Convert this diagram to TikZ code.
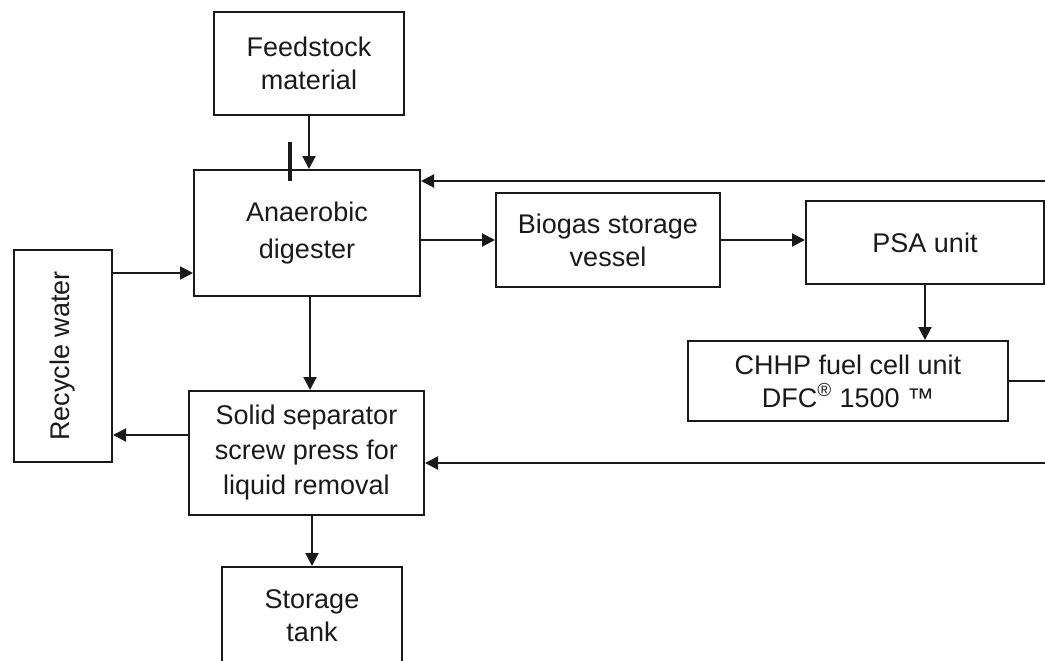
\documentclass[tikz,border=0pt]{standalone}
\usepackage{fontspec}
\setmainfont{Liberation Sans}
\usepackage{tikz}
\usetikzlibrary{calc,positioning,arrows.meta}
\definecolor{figLine}{HTML}{1A1A1A}
\definecolor{figText}{HTML}{1A1A1A}

\begin{document}
\begin{tikzpicture}[
  x=0.5pt, y=-0.5pt,
  every node/.style={font=\fontsize{13.5}{16.5}\selectfont, text=figText},
  unit/.style={draw=figLine, line width=1pt, align=center, inner sep=2pt},
  flow/.style={-{Triangle[length=6.5pt, width=6.5pt]}, line width=1pt, figLine},
  pipe/.style={line width=1pt, figLine},
  marker/.style={line width=1.7pt, figLine},
]

\useasboundingbox (0,0) rectangle (1045,660);

% Units
\node[unit, minimum width=95pt, minimum height=51.5pt] (feed) at (309,63.5)
  {Feedstock\\material};
\node[unit, minimum width=113pt, minimum height=63pt] (digester) at (307,233)
  {Anaerobic\\[2pt]digester};
\node[unit, minimum width=112pt, minimum height=47pt] (biogas) at (608,240)
  {Biogas storage\\vessel};
\node[unit, minimum width=119pt, minimum height=41.5pt] (psa) at (925,242.5)
  {PSA unit};
\node[unit, minimum width=160pt, minimum height=40pt] (chhp) at (848,381)
  {CHHP fuel cell unit\\DFC\textsuperscript{®} 1500 ™};
\node[unit, rotate=90, minimum width=106pt, minimum height=49pt] (recycle) at (63,356)
  {Recycle water};
\node[unit, minimum width=117.5pt, minimum height=62pt] (sep) at (306.5,453)
  {Solid separator\\[1pt]screw press for\\[1pt]liquid removal};
\node[unit, minimum width=90pt, minimum height=49pt] (tank) at (312,616)
  {Storage\\tank};

% Loose ends at the right border
\coordinate (backtop) at (1045,181);
\coordinate (fcout) at (1045,381);
\coordinate (backbot) at (1045,463);

% Side taps on the recycle loop
\coordinate (rwin) at ($(digester.west)+(0,40)$);
\coordinate (rwout) at ($(sep.west)+(0,-18)$);

% Flows
\draw[flow] (feed.south) -- (feed.south |- digester.north);
\draw[marker] ($(digester.north)+(-17,-27)$) -- ($(digester.north)+(-17,12)$);
\draw[flow] (backtop) -- (backtop -| digester.east);
\draw[flow] (digester.east |- biogas.west) -- (biogas.west);
\draw[flow] (biogas.east) -- (biogas.east -| psa.west);
\draw[flow] (psa.south) -- (psa.south |- chhp.north);
\draw[pipe] (chhp.east) -- (fcout);
\draw[flow] (backbot) -- (backbot -| sep.east);
\draw[flow] ($(digester.south)+(3,0)$) -- ($(digester.south |- sep.north)+(3,0)$);
\draw[flow] (rwin -| recycle.south) -- (rwin);
\draw[flow] (rwout) -- (rwout -| recycle.south);
\draw[flow] (sep.south -| tank.north) -- (tank.north);

\end{tikzpicture}
\end{document}
